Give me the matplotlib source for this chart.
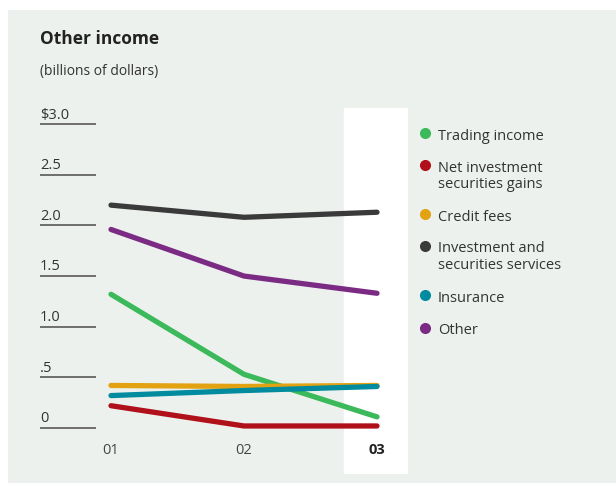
import matplotlib
matplotlib.use("Agg")
import matplotlib.pyplot as plt
from matplotlib.patches import Rectangle

plt.rcParams['font.family'] = ['Open Sans', 'DejaVu Sans']

# ---- data (billions of dollars) ----
years = ["01", "02", "03"]
trading_income = [1.32, 0.53, 0.11]
net_investment_gains = [0.22, 0.02, 0.02]
credit_fees = [0.42, 0.41, 0.42]
investment_services = [2.20, 2.08, 2.13]
insurance = [0.32, 0.37, 0.41]
other = [1.96, 1.50, 1.33]

y_ticks = [0, 0.5, 1.0, 1.5, 2.0, 2.5, 3.0]
y_tick_labels = ["0", ".5", "1.0", "1.5", "2.0", "2.5", "$3.0"]

series = [
    ("Trading income", trading_income, "#3cb95a"),
    ("Net investment\nsecurities gains", net_investment_gains, "#b0101a"),
    ("Credit fees", credit_fees, "#e2a212"),
    ("Investment and\nsecurities services", investment_services, "#3a3a3a"),
    ("Insurance", insurance, "#008c9e"),
    ("Other", other, "#7b2b84"),
]

W, H = 616, 484
fig = plt.figure(figsize=(W / 100, H / 100), dpi=100, facecolor="white")

# full-figure overlay in pixel units for the panel, titles and legend
bg = fig.add_axes([0, 0, 1, 1], zorder=0)
bg.set_xlim(0, W)
bg.set_ylim(H, 0)
bg.axis("off")
bg.add_patch(Rectangle((8, 10), W - 8, 473, facecolor="#edf1ee", edgecolor="none"))

# plotting axes: 01 at x=0, 03 at x=2
px_left, px_right, px_top, px_bot = 40, 408, 108, 474
x0_px, dx_px = 111, 133
y0_px, dy_px = 428, 101.3
ax = fig.add_axes([px_left / W, 1 - px_bot / H, (px_right - px_left) / W, (px_bot - px_top) / H], zorder=1)
ax.set_xlim((px_left - x0_px) / dx_px, (px_right - x0_px) / dx_px)
ax.set_ylim((y0_px - px_bot) / dy_px, (y0_px - px_top) / dy_px)
ax.axis("off")
ax.patch.set_alpha(0)

# highlighted current-year column
ax.axvspan((344 - x0_px) / dx_px, (px_right - x0_px) / dx_px, color="white", zorder=0)

# short gridlines with labels above them
g0 = (px_left - x0_px) / dx_px
g1 = (96 - x0_px) / dx_px
for v, lab in zip(y_ticks, y_tick_labels):
    ax.hlines(v, g0, g1, color="#4a4a4a", lw=1.1, zorder=1)
    ax.annotate(lab, (g0, v), xytext=(0, 4), textcoords="offset points",
                fontsize=10.5, color="#333333", ha="left", va="baseline")

xs = list(range(len(years)))
for name, vals, col in series:
    ax.plot(xs, vals, color=col, lw=3.8, solid_capstyle="round",
            solid_joinstyle="round", zorder=3)

for i, yr in enumerate(years):
    bold = i == len(years) - 1
    ax.annotate(yr, (i, 0), xytext=(0, -19), textcoords="offset points",
                ha="center", va="baseline", fontsize=10.5,
                color="#222222" if bold else "#444444",
                fontweight="bold" if bold else "normal")

# title block
bg.text(40, 44.5, "Other income", fontsize=12.5, fontweight="bold",
        color="#222222", ha="left", va="baseline")
bg.text(40, 75, "(billions of dollars)", fontsize=10, color="#333333",
        ha="left", va="baseline")

# legend
legend_dot_y = [133, 165, 214.3, 245.7, 295, 327.7]
for (name, vals, col), yy in zip(series, legend_dot_y):
    bg.plot(425, yy, "o", ms=8, color=col, mec="none")
    for k, line in enumerate(name.split("\n")):
        bg.text(438, yy + 6.5 + k * 16.7, line, fontsize=10.5, color="#333333",
                ha="left", va="baseline")

fig.savefig("out.png", dpi=100, facecolor="white")
